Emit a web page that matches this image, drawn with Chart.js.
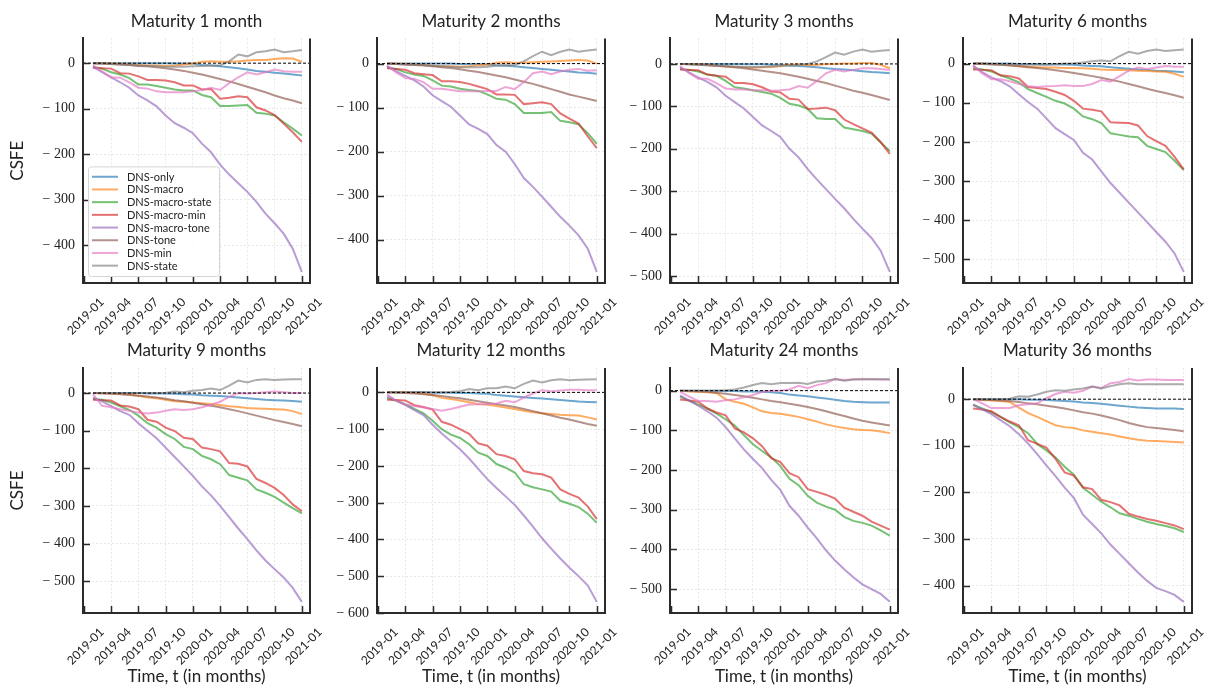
<!DOCTYPE html>
<html lang="en">
<head>
<meta charset="UTF-8">
<title>CSFE by maturity</title>
<script src="https://cdn.jsdelivr.net/npm/chart.js"></script>
<style>
  body { margin: 0; background: #fff; width: 1209px; height: 694px; position: relative; overflow: hidden; }
  canvas { position: absolute; }
</style>
</head>
<body>
<script>
// calendar used by the time axis, quarterly tick labels, and the monthly evaluation dates
const months = ['2019-01','2019-02','2019-03','2019-04','2019-05','2019-06','2019-07','2019-08','2019-09',
                '2019-10','2019-11','2019-12','2020-01','2020-02','2020-03','2020-04','2020-05','2020-06',
                '2020-07','2020-08','2020-09','2020-10','2020-11','2020-12','2021-01'];
const tickLabels = ['2019-01','2019-04','2019-07','2019-10','2020-01','2020-04','2020-07','2020-10','2021-01'];
const dataMonths = ['2019-02','2019-03','2019-04','2019-05','2019-06','2019-07','2019-08','2019-09','2019-10',
                    '2019-11','2019-12','2020-01','2020-02','2020-03','2020-04','2020-05','2020-06','2020-07',
                    '2020-08','2020-09','2020-10','2020-11','2020-12','2021-01'];

const maturities = ['Maturity 1 month','Maturity 2 months','Maturity 3 months','Maturity 6 months',
                    'Maturity 9 months','Maturity 12 months','Maturity 24 months','Maturity 36 months'];
const seriesNames = ['DNS-only','DNS-macro','DNS-macro-state','DNS-macro-min',
                     'DNS-macro-tone','DNS-tone','DNS-min','DNS-state'];
const seriesColors = ['rgba(31,119,180,0.65)','rgba(255,127,14,0.65)','rgba(44,160,44,0.65)','rgba(214,39,40,0.65)',
                      'rgba(148,103,189,0.65)','rgba(140,86,75,0.65)','rgba(227,119,194,0.65)','rgba(127,127,127,0.65)'];

// CSFE, one row per maturity (1, 2, 3, 6, 9, 12, 24, 36 months)
const dnsOnly = [
  [0,0,0,0,0,0,0,0,0,-1,-1,-1,-4,-5,-7,-9,-11,-14,-17,-19,-21,-23,-25,-27],
  [0,0,0,0,0,0,0,0,-1,-1,-1,-2,-4,-5,-6,-8,-10,-12,-14,-16,-18,-20,-21,-23],
  [0,0,0,0,0,0,0,-1,-1,-1,-2,-2,-4,-5,-6,-8,-10,-12,-13,-15,-17,-19,-20,-22],
  [0,0,0,0,0,-1,-1,-1,-2,-2,-2,-3,-5,-6,-7,-9,-11,-13,-15,-16,-18,-19,-20,-22],
  [0,0,0,0,0,0,-1,-1,-1,-2,-3,-4,-6,-7,-8,-10,-12,-14,-16,-18,-19,-20,-21,-23],
  [0,0,0,0,0,-1,-1,-1,-2,-2,-3,-4,-7,-9,-11,-13,-15,-17,-19,-21,-23,-25,-26,-27],
  [0,0,0,0,0,-1,-1,-2,-2,-3,-4,-6,-10,-12,-14,-17,-20,-23,-26,-28,-29,-30,-30,-30],
  [0,0,0,0,0,0,-1,-1,-2,-3,-4,-5,-7,-8,-10,-12,-14,-16,-18,-19,-20,-20,-20,-21]
];
const dnsMacro = [
  [0,0,-1,-2,-3,-4,-5,-5,-6,-5,-3,-1,3,4,3,3,4,6,7,7,9,11,10,3],
  [0,0,-1,-2,-4,-5,-6,-6,-7,-6,-4,-2,2,3,2,2,3,4,5,6,7,8,7,0],
  [0,0,-1,-2,-4,-6,-7,-8,-9,-8,-7,-5,-2,-1,-3,-2,-1,0,1,1,2,2,-2,-10],
  [0,0,-1,-2,-4,-6,-8,-9,-10,-10,-11,-11,-12,-13,-15,-16,-16,-17,-18,-19,-20,-21,-26,-34],
  [0,0,-1,-2,-3,-7,-12,-14,-18,-22,-23,-25,-27,-29,-32,-35,-37,-40,-41,-42,-43,-44,-48,-56],
  [0,0,0,-1,-3,-8,-15,-18,-22,-27,-32,-33,-37,-41,-45,-50,-54,-57,-59,-61,-62,-63,-68,-74],
  [0,-2,-3,-4,-6,-22,-28,-33,-42,-52,-56,-58,-62,-66,-72,-78,-85,-90,-94,-97,-99,-100,-103,-107],
  [0,-2,-3,-4,-6,-18,-30,-38,-47,-56,-60,-62,-67,-70,-73,-76,-80,-84,-87,-89,-90,-91,-92,-93]
];
const dnsMacroState = [
  [-8,-12,-20,-25,-33,-47,-47,-50,-54,-58,-60,-60,-70,-75,-94,-94,-93,-92,-109,-111,-115,-130,-144,-159],
  [-10,-12,-20,-25,-28,-38,-50,-52,-57,-60,-62,-70,-80,-82,-92,-112,-112,-112,-110,-130,-133,-138,-158,-182],
  [-12,-14,-18,-25,-28,-40,-55,-58,-62,-66,-70,-80,-94,-98,-106,-128,-130,-130,-150,-154,-158,-164,-185,-205],
  [-12,-15,-20,-30,-38,-48,-65,-75,-85,-95,-102,-115,-135,-142,-152,-178,-182,-186,-188,-210,-218,-226,-248,-272],
  [-15,-18,-25,-35,-45,-60,-80,-92,-109,-122,-143,-149,-167,-176,-189,-218,-225,-232,-256,-265,-276,-291,-306,-320],
  [-15,-23,-32,-45,-57,-77,-100,-115,-124,-141,-164,-173,-195,-205,-218,-250,-258,-264,-270,-295,-303,-312,-330,-355],
  [-15,-25,-35,-45,-58,-72,-88,-112,-135,-152,-168,-190,-222,-238,-265,-282,-292,-300,-318,-328,-333,-340,-352,-365],
  [-12,-20,-28,-38,-50,-60,-73,-96,-110,-125,-145,-162,-190,-205,-220,-232,-245,-250,-257,-263,-268,-272,-277,-285]
];
const dnsMacroMin = [
  [-10,-11,-12,-22,-23,-29,-37,-37,-38,-42,-49,-49,-58,-57,-78,-76,-73,-75,-97,-104,-114,-133,-152,-173],
  [-10,-12,-14,-22,-24,-26,-40,-40,-42,-46,-52,-58,-70,-70,-71,-92,-90,-88,-92,-113,-125,-136,-165,-192],
  [-13,-14,-15,-25,-28,-30,-45,-45,-48,-55,-65,-67,-82,-84,-106,-105,-103,-109,-131,-142,-152,-162,-184,-212],
  [-15,-16,-17,-30,-32,-38,-60,-62,-65,-72,-80,-95,-115,-118,-122,-150,-151,-152,-158,-185,-198,-210,-238,-270],
  [-18,-19,-20,-33,-36,-43,-71,-76,-92,-101,-119,-122,-145,-149,-155,-186,-188,-195,-228,-239,-252,-271,-296,-314],
  [-20,-21,-22,-35,-40,-47,-80,-88,-100,-113,-139,-145,-168,-173,-182,-214,-220,-223,-232,-264,-276,-286,-310,-345],
  [-22,-25,-28,-45,-55,-62,-95,-105,-120,-140,-170,-180,-208,-218,-248,-255,-262,-272,-295,-305,-315,-330,-340,-350],
  [-20,-22,-26,-38,-48,-56,-88,-96,-104,-128,-157,-164,-189,-193,-216,-221,-228,-246,-252,-257,-261,-266,-271,-279]
];
const dnsMacroTone = [
  [-8,-20,-31,-42,-54,-71,-82,-95,-115,-132,-142,-154,-177,-196,-223,-245,-264,-283,-305,-331,-352,-375,-408,-459],
  [-5,-17,-28,-38,-52,-72,-85,-98,-118,-138,-148,-160,-185,-200,-228,-260,-280,-302,-325,-348,-368,-390,-420,-473],
  [-8,-20,-32,-42,-55,-75,-90,-105,-125,-145,-158,-172,-200,-220,-248,-272,-295,-318,-340,-365,-388,-410,-440,-490],
  [-5,-22,-35,-45,-58,-78,-98,-115,-140,-165,-180,-195,-228,-245,-275,-305,-330,-355,-380,-405,-430,-455,-485,-532],
  [-12,-22,-35,-48,-58,-80,-100,-120,-145,-170,-195,-220,-248,-272,-300,-330,-360,-388,-418,-445,-468,-490,-518,-555],
  [-10,-22,-35,-48,-62,-88,-112,-133,-155,-180,-208,-236,-260,-283,-306,-335,-365,-397,-425,-452,-477,-500,-525,-570],
  [-12,-25,-38,-52,-68,-92,-120,-148,-172,-195,-225,-250,-290,-315,-345,-372,-402,-428,-450,-470,-488,-500,-512,-532],
  [-12,-22,-32,-45,-58,-75,-95,-118,-142,-165,-190,-212,-248,-268,-288,-312,-332,-352,-372,-390,-405,-412,-420,-435]
];
const dnsTone = [
  [0,-1,-2,-3,-4,-6,-7,-9,-11,-14,-17,-21,-25,-30,-35,-40,-46,-52,-58,-64,-71,-77,-82,-88],
  [0,-1,-2,-3,-4,-6,-8,-10,-13,-16,-19,-23,-27,-31,-36,-41,-46,-52,-58,-64,-70,-75,-80,-85],
  [0,-1,-2,-3,-4,-6,-8,-10,-13,-16,-19,-22,-26,-30,-35,-40,-45,-51,-57,-63,-68,-73,-79,-85],
  [0,-1,-2,-3,-5,-7,-9,-11,-14,-17,-20,-24,-28,-32,-36,-41,-46,-52,-58,-64,-70,-75,-81,-87],
  [0,-1,-2,-3,-5,-7,-9,-12,-15,-19,-22,-26,-30,-34,-38,-43,-48,-54,-60,-66,-72,-77,-82,-88],
  [0,-1,-2,-3,-5,-7,-10,-13,-16,-20,-24,-28,-32,-36,-40,-45,-51,-57,-63,-69,-74,-80,-86,-91],
  [0,-1,-2,-3,-5,-8,-11,-14,-18,-22,-26,-29,-33,-37,-41,-46,-52,-58,-64,-70,-76,-80,-84,-88],
  [0,-1,-2,-3,-4,-6,-9,-11,-14,-17,-20,-24,-28,-31,-35,-40,-45,-51,-56,-60,-62,-64,-66,-69]
];
const dnsMin = [
  [-5,-18,-31,-32,-42,-54,-56,-62,-64,-64,-64,-62,-59,-54,-59,-44,-31,-20,-25,-20,-14,-18,-19,-19],
  [-5,-20,-33,-35,-42,-57,-57,-60,-63,-63,-63,-62,-62,-53,-58,-42,-22,-18,-24,-18,-14,-12,-16,-15],
  [-5,-22,-35,-35,-45,-58,-60,-60,-62,-62,-63,-62,-60,-52,-56,-40,-22,-14,-18,-14,-10,-10,-12,-14],
  [-5,-25,-40,-40,-45,-52,-58,-60,-58,-57,-55,-57,-57,-52,-42,-46,-32,-18,-10,-14,-10,-6,-8,-8],
  [-3,-34,-38,-43,-47,-52,-54,-52,-47,-43,-45,-43,-38,-31,-23,-10,0,-1,0,2,4,2,0,0],
  [-5,-23,-33,-37,-41,-45,-50,-45,-39,-33,-32,-32,-30,-23,-27,-14,-3,6,3,5,7,7,6,6],
  [-3,-15,-26,-26,-28,-24,-22,-17,-11,-3,0,0,3,12,6,14,19,29,27,29,29,29,28,28],
  [0,-9,-19,-19,-19,-13,-11,-9,2,11,16,14,18,27,24,34,37,43,40,42,42,41,41,41]
];
const dnsState = [
  [0,-1,-2,-3,-4,-5,-6,-7,-8,-8,-8,-7,-6,-5,-5,4,19,15,24,26,30,24,26,29],
  [0,-1,-2,-3,-4,-5,-6,-7,-8,-8,-8,-7,-5,-4,-3,5,17,27,19,27,32,27,30,32],
  [0,-1,-2,-3,-4,-5,-6,-7,-7,-7,-6,-5,-3,-2,0,6,16,27,22,29,34,29,31,33],
  [0,0,-1,-2,-3,-3,-3,-3,-2,-1,0,1,3,6,8,6,19,30,25,32,36,32,34,36],
  [0,0,0,0,0,0,0,0,1,4,2,6,8,12,8,20,33,28,35,37,35,36,37,37],
  [0,0,0,0,0,0,0,1,3,9,6,11,11,16,11,23,32,27,33,36,33,34,35,36],
  [0,0,0,0,0,1,3,8,14,19,16,19,19,20,17,23,25,29,25,28,29,29,29,29],
  [0,0,0,0,1,6,5,10,16,19,18,21,23,27,23,28,32,34,32,32,32,32,32,32]
];
const models = [dnsOnly, dnsMacro, dnsMacroState, dnsMacroMin, dnsMacroTone, dnsTone, dnsMin, dnsState];

// page layout: canvas left edge and plot-area edges per column
const canvasLeft = [0, 310, 605, 898];
const plotLeft = [83, 377, 670, 963];
const plotRight = [310, 605, 898, 1192];
const rightPad = 16;

const SANS = 'Lato, "DejaVu Sans", sans-serif';
const SERIF = '"Liberation Serif", "DejaVu Serif", serif';

// zero line, right spine and inward ticks
const framePlugin = {
    id: 'frame',
    afterDatasetsDraw(chart) {
        const {ctx, chartArea: a, scales: {x, y}} = chart;
        ctx.save();
        const y0 = y.getPixelForValue(0);
        ctx.strokeStyle = '#000';
        ctx.lineWidth = 1;
        ctx.setLineDash([3, 2]);
        ctx.beginPath(); ctx.moveTo(a.left, y0); ctx.lineTo(a.right, y0); ctx.stroke();
        ctx.setLineDash([]);
        ctx.strokeStyle = '#2b2b2b';
        ctx.lineWidth = 2;
        ctx.beginPath(); ctx.moveTo(a.right, a.top); ctx.lineTo(a.right, a.bottom + 1); ctx.stroke();
        ctx.lineWidth = 1.5;
        ctx.beginPath();
        x.ticks.forEach(t => {
            const px = Math.round(x.getPixelForValue(t.value)) + 0.5;
            ctx.moveTo(px, a.bottom); ctx.lineTo(px, a.bottom - 7);
        });
        y.ticks.forEach(t => {
            const py = Math.round(y.getPixelForValue(t.value)) + 0.5;
            ctx.moveTo(a.left, py); ctx.lineTo(a.left + 7, py);
        });
        ctx.stroke();
        ctx.restore();
    }
};

// legend inside the first panel, lower left
const legendBox = {
    id: 'legendBox',
    afterDatasetsDraw(chart, args, opts) {
        if (!opts.show) return;
        const {ctx, chartArea: a} = chart;
        const sets = chart.data.datasets;
        const rowH = 12.7, w = 131, h = rowH * sets.length + 8;
        const x0 = a.left + 5, y0 = a.bottom - 7 - h;
        ctx.save();
        ctx.fillStyle = 'rgba(255,255,255,0.85)';
        ctx.strokeStyle = '#d6d6d6';
        ctx.lineWidth = 1;
        ctx.beginPath();
        ctx.roundRect(x0 + 0.5, y0 + 0.5, w, h, 3);
        ctx.fill(); ctx.stroke();
        ctx.font = '11px ' + SANS;
        ctx.textBaseline = 'middle';
        sets.forEach((ds, i) => {
            const yy = y0 + 4 + rowH * (i + 0.5);
            ctx.strokeStyle = ds.borderColor;
            ctx.lineWidth = 2;
            ctx.beginPath(); ctx.moveTo(x0 + 4, yy); ctx.lineTo(x0 + 30, yy); ctx.stroke();
            ctx.fillStyle = '#222';
            ctx.fillText(ds.label, x0 + 39, yy + 0.5);
        });
        ctx.restore();
    }
};

function makePanel(p) {
    const row = Math.floor(p / 4), col = p % 4;
    const cv = document.createElement('canvas');
    cv.width = plotRight[col] + rightPad - canvasLeft[col];
    cv.height = row ? 354 : 340;
    cv.style.left = canvasLeft[col] + 'px';
    cv.style.top = (row ? 340 : 0) + 'px';
    document.body.appendChild(cv);

    const datasets = models.map((m, i) => ({
        label: seriesNames[i],
        data: m[p].map((v, k) => ({ x: months.indexOf(dataMonths[k]), y: v })),
        borderColor: seriesColors[i],
        backgroundColor: seriesColors[i],
        borderWidth: 2,
        pointRadius: 0,
        tension: 0,
        order: models.length - i
    }));

    const vals = models.flatMap(m => m[p]);
    const lo = Math.min(...vals), hi = Math.max(...vals);
    const pad = (hi - lo) * 0.05;

    new Chart(cv, {
        type: 'line',
        data: { datasets },
        plugins: [framePlugin, legendBox],
        options: {
            responsive: false,
            animation: false,
            devicePixelRatio: 1,
            layout: { padding: { right: rightPad } },
            plugins: {
                legend: { display: false },
                tooltip: { enabled: false },
                legendBox: { show: p === 0 },
                title: {
                    display: true,
                    text: maturities[p],
                    fullSize: false,
                    color: '#222',
                    font: { family: SANS, size: 17, weight: 'normal' },
                    padding: row ? { top: 0.6, bottom: 7 } : { top: 11, bottom: 7 }
                }
            },
            scales: {
                x: {
                    type: 'linear',
                    min: -0.1,
                    max: 24.9,
                    afterBuildTicks: s => { s.ticks = tickLabels.map(t => ({ value: months.indexOf(t) })); },
                    afterFit: s => { s.height = row ? 81 : 57; },
                    ticks: {
                        autoSkip: false,
                        minRotation: 45,
                        maxRotation: 45,
                        padding: 12,
                        labelOffset: 18,
                        color: '#222',
                        font: { family: SANS, size: 12 },
                        callback: v => months[v]
                    },
                    grid: { color: '#e3e3e3', lineWidth: 0.8, drawTicks: false },
                    border: { display: true, color: '#2b2b2b', width: 2, dash: [2, 2] },
                    title: {
                        display: row === 1,
                        text: 'Time, t (in months)',
                        color: '#222',
                        font: { family: SANS, size: 17 },
                        padding: { top: 0, bottom: 6.8 }
                    }
                },
                y: {
                    min: lo - pad,
                    max: hi + pad,
                    afterBuildTicks: s => {
                        const t = [];
                        for (let v = Math.ceil(s.min / 100) * 100; v <= s.max; v += 100) t.push({ value: v });
                        s.ticks = t;
                    },
                    afterFit: s => { s.width = plotLeft[col] - canvasLeft[col]; },
                    ticks: {
                        padding: 8,
                        color: '#222',
                        font: { family: SERIF, size: 14 },
                        callback: v => v < 0 ? '\u2212\u2005' + Math.abs(v) : String(v)
                    },
                    grid: { color: '#e3e3e3', lineWidth: 0.8, drawTicks: false },
                    border: { display: true, color: '#2b2b2b', width: 2, dash: [2, 2] },
                    title: {
                        display: col === 0,
                        text: 'CSFE',
                        color: '#222',
                        font: { family: SANS, size: 17 },
                        padding: { top: 7.8, bottom: 0 }
                    }
                }
            }
        }
    });
}

for (let p = 0; p < maturities.length; p++) makePanel(p);
</script>
</body>
</html>
